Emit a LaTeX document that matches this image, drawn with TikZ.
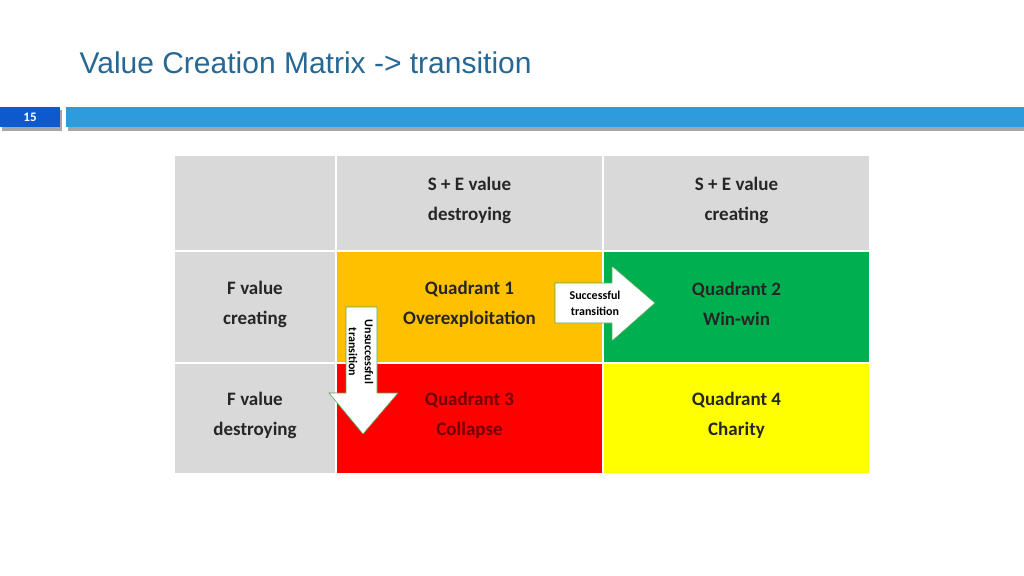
\documentclass[tikz,border=0pt]{standalone}
\usepackage{fontspec}
\setmainfont{Carlito}
\newfontfamily\titlefont{Liberation Sans}
\begin{document}
\begin{tikzpicture}[x=1pt,y=-1pt,
  cell/.style={draw=white,line width=1.5pt},
  lbl/.style={font=\fontsize{19}{30}\selectfont\bfseries,align=center,text=black!85},
  arr/.style={fill=white,draw=gray!70!green,line width=0.6pt}]
\useasboundingbox (0,0) rectangle (1024,575);
\node[anchor=west,text=blue!40!cyan!50!black!85,font=\titlefont\fontsize{30}{34}\selectfont] (title) at (76,63) {Value Creation Matrix -> transition};
\fill[black!35] (2,110) rectangle (62,131);
\fill[black!35] (68,110) rectangle (1024,131);
\fill[blue!60!cyan!80!black!95] (0,107) rectangle (60,127);
\fill[cyan!75!blue!85] (66,107) rectangle (1024,127);
\node[text=white,font=\bfseries\fontsize{13}{14}\selectfont] (num) at (30,117) {15};
% cells
\fill[cell,fill=black!15] (174,155) rectangle (336,251);
\fill[cell,fill=black!15] (336,155) rectangle (603,251);
\fill[cell,fill=black!15] (603,155) rectangle (870,251);
\fill[cell,fill=black!15] (174,251) rectangle (336,363);
\fill[cell,fill=black!15] (174,363) rectangle (336,474);
\filldraw[cell,fill={rgb,255:red,255;green,192;blue,0}] (336,251) rectangle (603,363);
\filldraw[cell,fill={rgb,255:red,0;green,176;blue,80}] (603,251) rectangle (870,363);
\filldraw[cell,fill={rgb,255:red,255;green,0;blue,0}] (336,363) rectangle (603,474);
\filldraw[cell,fill={rgb,255:red,255;green,255;blue,0}] (603,363) rectangle (870,474);
\draw[white,line width=1.5pt] (174,155) rectangle (870,474);
\node[lbl] (h1) at (469.5,200) {S + E value\\destroying};
\node[lbl] (h2) at (736.5,200) {S + E value\\creating};
\node[lbl] (r1) at (255,304) {F value\\creating};
\node[lbl] (r2) at (255,415) {F value\\destroying};
\node[lbl] (q1) at (469.5,304) {Quadrant 1\\Overexploitation};
\node[lbl] (q2) at (736.5,304) {Quadrant 2\\Win-win};
\node[lbl,text={rgb,255:red,110;green,0;blue,0}] (q3) at (469.5,415) {Quadrant 3\\Collapse};
\node[lbl] (q4) at (736.5,415) {Quadrant 4\\Charity};
% arrows
\draw[arr] (555,283) -- (612,283) -- (612,266) -- (655,303) -- (612,341) -- (612,323) -- (555,323) -- cycle;
\node[font=\bfseries\fontsize{12}{16}\selectfont,align=center] (s) at (595,303) {Successful\\transition};
\draw[arr] (346,307) -- (377,307) -- (377,393) -- (398,393) -- (363,434) -- (329,393) -- (346,393) -- cycle;
\node[font=\bfseries\fontsize{12}{16}\selectfont,align=center,rotate=-90] (u) at (361,352) {Unsuccessful\\transition};
\end{tikzpicture}
\end{document}
